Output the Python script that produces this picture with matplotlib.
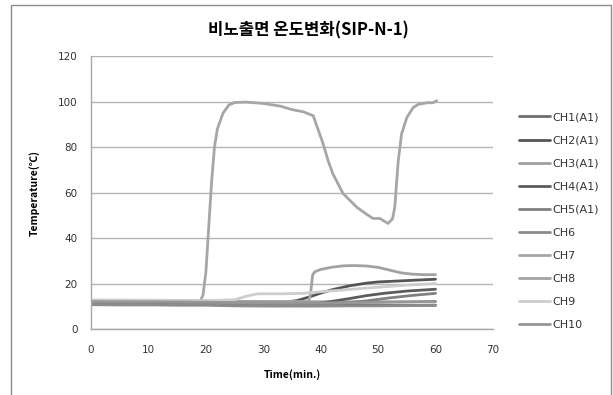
import matplotlib.pyplot as plt
from matplotlib.patches import Rectangle

plt.rcParams["font.family"] = ["Noto Sans CJK KR", "DejaVu Sans"]

TITLE = "비노출면 온도변화(SIP-N-1)"

# time axis (min.) for the slowly varying channels
t_base = [0, 5, 10, 15, 20, 25, 30, 35, 40, 45, 50, 55, 60]

ch1 = [11.0, 10.9, 10.9, 10.8, 10.8, 10.7, 10.7, 10.6, 10.6, 10.6, 10.5, 10.5, 10.6]
ch3 = [12.6, 12.6, 12.5, 12.5, 12.4, 12.3, 12.2, 12.2, 12.1, 12.1, 12.1, 12.1, 12.1]
ch6 = [10.8, 10.7, 10.7, 10.6, 10.6, 10.3, 10.2, 10.2, 10.2, 10.3, 10.3, 10.4, 10.5]
ch10 = [12.2, 12.1, 12.1, 12.0, 11.9, 11.7, 11.6, 11.5, 11.6, 11.7, 11.8, 12.0, 12.3]

t_ch2 = [0, 10, 20, 30, 34, 36, 38, 40, 42, 45, 48, 50, 55, 60]
ch2 = [11.6, 11.5, 11.3, 11.4, 11.9, 12.7, 14.2, 15.9, 17.4, 19.1, 20.3, 20.8, 21.4, 22.0]

t_ch4 = [0, 10, 20, 30, 38, 40, 42, 45, 48, 51, 55, 60]
ch4 = [11.2, 11.1, 11.0, 10.9, 11.1, 11.5, 12.3, 13.5, 14.8, 15.8, 16.8, 17.6]

t_ch5 = [0, 10, 20, 30, 40, 44, 48, 52, 56, 60]
ch5 = [11.4, 11.3, 11.2, 11.1, 11.2, 11.5, 12.5, 13.8, 14.9, 15.8]

t_ch7 = [0, 5, 10, 15, 18, 19, 19.5, 20, 20.5, 21, 21.5, 22, 23, 24, 25, 27, 30,
         33, 35, 37, 38.7, 39.5, 40.4, 41.3, 42.1, 43.9, 46.3, 48, 49.1, 50.3,
         51.7, 52.5, 52.9, 53.5, 54.1, 55, 56.1, 57, 58.5, 59.5, 60.2]
ch7 = [12.5, 12.4, 12.3, 12.2, 12.1, 12.4, 15.0, 25.0, 45.0, 65.0, 80.0, 88.0, 95.0,
       98.5, 99.6, 99.8, 99.2, 98.0, 96.5, 95.5, 93.8, 88.0, 81.6, 74.0, 68.4, 59.6,
       53.6, 50.5, 48.7, 48.7, 46.5, 48.5, 53.6, 74.0, 86.0, 93.0, 97.4, 98.8, 99.5,
       99.5, 100.4]

t_ch8 = [0, 10, 20, 30, 36, 37.8, 38.2, 38.6, 39, 40, 42, 44, 46, 48, 50, 52, 54, 56, 58, 60]
ch8 = [12.7, 12.6, 12.4, 12.2, 12.0, 12.0, 15.0, 24.0, 25.3, 26.3, 27.3, 27.9, 28.0,
       27.8, 27.2, 26.0, 24.8, 24.2, 24.0, 24.0]

t_ch9 = [0, 10, 20, 25, 27, 29, 33, 37, 40, 45, 50, 55, 60]
ch9 = [12.9, 12.8, 12.6, 13.0, 14.5, 15.6, 15.6, 15.8, 16.5, 17.5, 18.5, 19.4, 20.1]

series = [
    ("CH1(A1)", t_base, ch1, "#6e6e6e"),
    ("CH2(A1)", t_ch2, ch2, "#555555"),
    ("CH3(A1)", t_base, ch3, "#a0a0a0"),
    ("CH4(A1)", t_ch4, ch4, "#5c5c5c"),
    ("CH5(A1)", t_ch5, ch5, "#808080"),
    ("CH6", t_base, ch6, "#8c8c8c"),
    ("CH7", t_ch7, ch7, "#a6a6a6"),
    ("CH8", t_ch8, ch8, "#a2a2a2"),
    ("CH9", t_ch9, ch9, "#cdcdcd"),
    ("CH10", t_base, ch10, "#969696"),
]

x_ticks = [0, 10, 20, 30, 40, 50, 60, 70]
y_ticks = [0, 20, 40, 60, 80, 100, 120]

fig = plt.figure(figsize=(6.13, 3.95), dpi=100)
ax = fig.add_axes([0.1485, 0.1663, 0.6557, 0.6917])

for label, t, v, color in series:
    ax.plot(t, v, color=color, linewidth=2.0, label=label, solid_capstyle="round")

ax.set_xlim(0, 70)
ax.set_ylim(0, 120)
ax.set_xticks(x_ticks)
ax.set_yticks(y_ticks)
for lbl in ax.get_xticklabels() + ax.get_yticklabels():
    lbl.set_family("DejaVu Sans")
ax.tick_params(length=0, labelsize=7.5, labelcolor="#333333")
ax.tick_params(axis="x", pad=11.5)
ax.tick_params(axis="y", pad=9.5)
ax.grid(axis="y", color="#b4b4b4", linewidth=1.0)
ax.set_axisbelow(True)
for side in ("top", "right"):
    ax.spines[side].set_visible(False)
for side in ("left", "bottom"):
    ax.spines[side].set_color("#a8a8a8")
    ax.spines[side].set_linewidth(1.0)

ax.set_xlabel("Time(min.)", fontsize=7.5, fontweight="bold", labelpad=10)
ax.set_ylabel("Temperature(\u2103)", fontsize=7.5, fontweight="bold", labelpad=13)
fig.text(0.503, 0.922, TITLE, ha="center", va="center", fontsize=12, fontweight="bold")

leg = fig.legend(loc="upper left", bbox_to_anchor=(0.84, 0.727), frameon=False,
                 handlelength=2.75, handletextpad=0.2, labelspacing=1.18,
                 borderaxespad=0, prop={"family": "DejaVu Sans", "size": 8})
for txt in leg.get_texts():
    txt.set_color("#333333")

fig.patches.append(Rectangle((10.5 / 613, -0.02), 600 / 613, 1.007, transform=fig.transFigure,
                             fill=False, edgecolor="#8c8c8c", linewidth=1.0))

fig.savefig("out.png", dpi=100)
